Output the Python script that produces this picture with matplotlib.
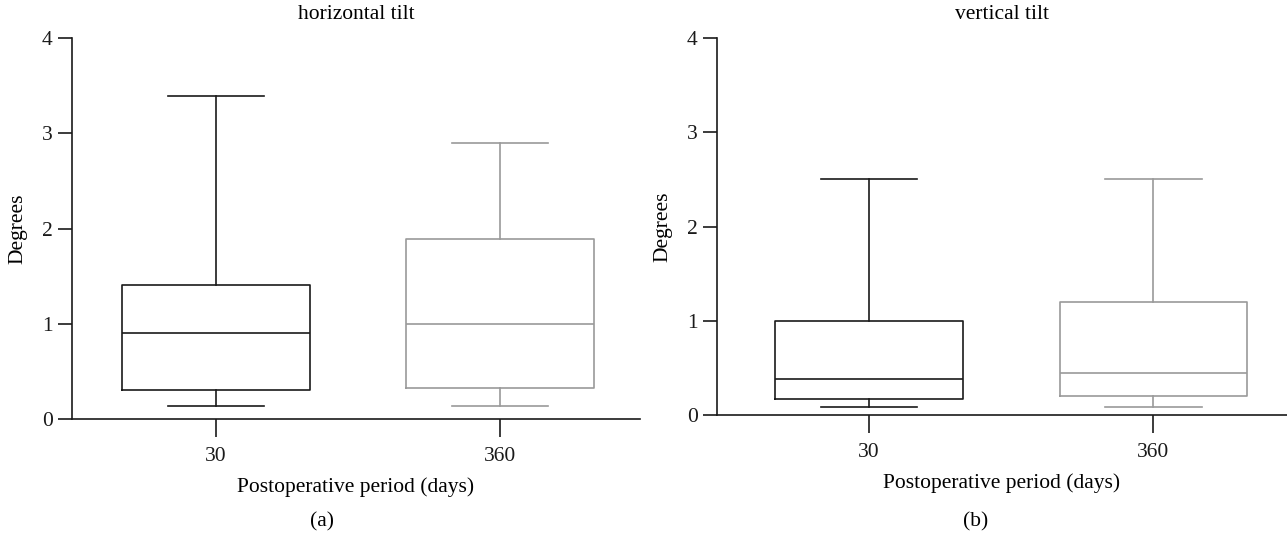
import matplotlib
matplotlib.use("Agg")
import matplotlib.pyplot as plt

plt.rcParams['font.family'] = ['Liberation Serif', 'DejaVu Serif']

categories = ["30", "360"]
panel_titles = ["horizontal tilt", "vertical tilt"]
panel_tags = ["(a)", "(b)"]

# horizontal tilt: [whisker low, Q1, median, Q3, whisker high]
horiz_30 = [0.135, 0.30, 0.90, 1.41, 3.39]
horiz_360 = [0.135, 0.33, 1.00, 1.89, 2.90]
# vertical tilt
vert_30 = [0.08, 0.17, 0.38, 1.00, 2.50]
vert_360 = [0.08, 0.20, 0.45, 1.20, 2.50]

colors = ["#1a1a1a", "#9a9a9a"]
FS = 15.5

W, H = 1287, 533
fig = plt.figure(figsize=(W / 100, H / 100), dpi=100)

axes_px = [(72, 38, 640, 419), (717, 38, 1287, 415)]
xlims = [(-0.507, 1.493), (-0.535, 1.47)]
panels = [[horiz_30, horiz_360], [vert_30, vert_360]]
tag_x = [322, 976]

for i, (x0, y0, x1, y1) in enumerate(axes_px):
    ax = fig.add_axes([x0 / W, 1 - y1 / H, (x1 - x0) / W, (y1 - y0) / H])
    for j, vals in enumerate(panels[i]):
        st = [dict(whislo=vals[0], q1=vals[1], med=vals[2], q3=vals[3],
                   whishi=vals[4], fliers=[])]
        c = colors[j]
        lp = dict(color=c, linewidth=1.2)
        ax.bxp(st, positions=[j], widths=0.66, showfliers=False,
               boxprops=lp, medianprops=lp, whiskerprops=lp, capprops=lp,
               capwidths=0.34, manage_ticks=False)
    ax.set_xlim(*xlims[i])
    ax.set_ylim(0, 4)
    ax.set_yticks([0, 1, 2, 3, 4])
    ax.set_xticks([0, 1])
    ax.set_xticklabels(categories)
    for s in ["top", "right"]:
        ax.spines[s].set_visible(False)
    for s in ["left", "bottom"]:
        ax.spines[s].set_linewidth(1.2)
        ax.spines[s].set_color("#1a1a1a")
    ax.tick_params(axis='both', direction='out', length=10, width=1.2,
                   colors="#1a1a1a", labelsize=FS, pad=4)
    ax.tick_params(axis='x', length=13, pad=7)
    ax.set_title(panel_titles[i], fontsize=FS, pad=14)
    ax.set_xlabel("Postoperative period (days)", fontsize=FS, labelpad=8)
    ax.set_ylabel("Degrees", fontsize=FS, labelpad=10)
    fig.text(tag_x[i] / W, 1 - 522 / H, panel_tags[i], ha='center', va='center',
             fontsize=FS)

fig.savefig("out.png", dpi=100)
